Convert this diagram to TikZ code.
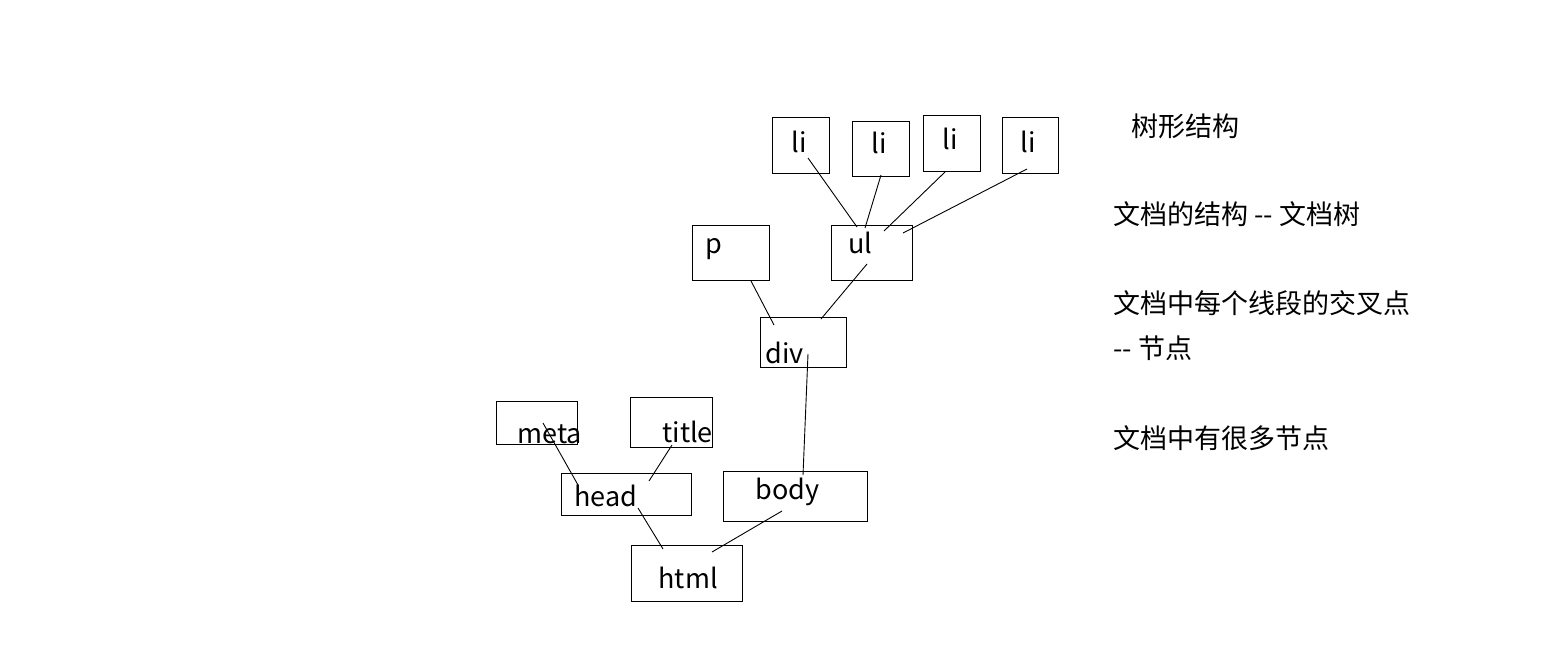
\documentclass[tikz,border=0pt]{standalone}
\usepackage{fontspec}
\setmainfont{Noto Sans CJK SC}
\usepackage{tikz}

\begin{document}
\begin{tikzpicture}[x=1pt, y=-1pt, line width=0.9pt,
	box/.style={draw, inner sep=0pt},
	tag/.style={anchor=base west, inner sep=0pt, font=\fontsize{27}{30}\selectfont},
	note/.style={anchor=west, inner sep=0pt, font=\fontsize{27}{30}\selectfont}] % DOM tree
	\useasboundingbox (0,0) rectangle (1542,656);
	\newcommand{\domBox}[5]{\node[box, minimum width=#4, minimum height=#5] (#1) at (#2,#3) {};}
	% boxes
	\domBox{li1}{801}{145}{57}{56}
	\domBox{li2}{880.5}{148.5}{57}{55}
	\domBox{li3}{951.5}{143}{57}{56}
	\domBox{li4}{1030}{145}{56}{56}
	\domBox{p}{730.5}{252.5}{77}{55}
	\domBox{ul}{871.5}{252.5}{81}{55}
	\domBox{div}{803}{342}{86}{50}
	\domBox{meta}{536.5}{422.5}{81}{43}
	\domBox{title}{671}{422}{82}{50}
	\domBox{head}{626}{494}{130}{42}
	\domBox{body}{795}{496}{144}{50}
	\domBox{html}{686.5}{573}{111}{56}
	% labels
	\node[tag] (li1t) at (791,152) {li};
	\node[tag] (li2t) at (871,153) {li};
	\node[tag] (li3t) at (942,149) {li};
	\node[tag] (li4t) at (1020,152) {li};
	\node[tag] (pt) at (705,253) {p};
	\node[tag] (ult) at (848,253) {ul};
	\node[tag] (divt) at (765,363) {div};
	\node[tag] (metat) at (517,443) {meta};
	\node[tag] (titlet) at (662,442) {title};
	\node[tag] (headt) at (574,506) {head};
	\node[tag] (bodyt) at (755,499) {body};
	\node[tag] (htmlt) at (658,588) {html};
	% links
	\draw ([shift={(7,13)}]li1.center) -- ([shift={(-14.5,-25.5)}]ul.center);
	\draw ([shift={(0.5,26.5)}]li2.center) -- ([shift={(-6.5,-24.5)}]ul.center);
	\draw ([shift={(-6.5,29)}]li3.center) -- ([shift={(12.5,-21.5)}]ul.center);
	\draw ([shift={(-3,24)}]li4.center) -- ([shift={(31.5,-19.5)}]ul.center);
	\draw ([shift={(20.5,28.5)}]p.center) -- ([shift={(-29,-17)}]div.center);
	\draw ([shift={(-4.5,11.5)}]ul.center) -- ([shift={(18,-23)}]div.center);
	\draw ([shift={(5,12)}]div.center) -- ([shift={(8,-21)}]body.center);
	\draw ([shift={(6.5,0.5)}]meta.center) -- ([shift={(-48,-9)}]head.center);
	\draw ([shift={(1,23)}]title.center) -- ([shift={(23,-13)}]head.center);
	\draw ([shift={(12,14)}]head.center) -- ([shift={(-23.5,-24)}]html.center);
	\draw ([shift={(-13,15)}]body.center) -- ([shift={(25.5,-21)}]html.center);
	% notes
	\node[note] (n1) at (1131,126) {树形结构};
	\node[note] (n2) at (1113,214) {文档的结构 {-}{-} 文档树};
	\node[note] (n3) at (1113,303) {文档中每个线段的交叉点};
	\node[note] (n4) at (1113,348) {{-}{-} 节点};
	\node[note] (n5) at (1113,438) {文档中有很多节点};
\end{tikzpicture}
\end{document}
